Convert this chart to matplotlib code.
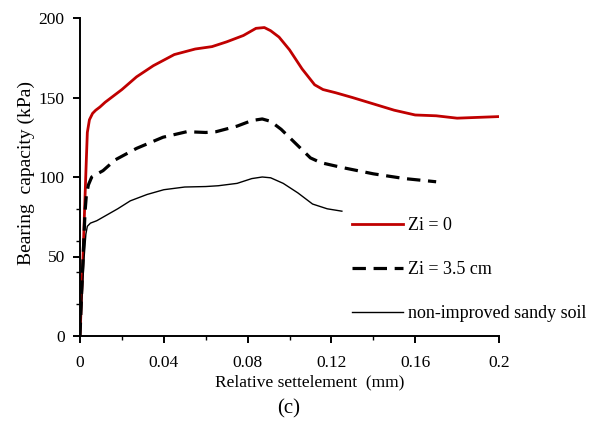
import numpy as np
import matplotlib
matplotlib.use("Agg")
import matplotlib.pyplot as plt
from matplotlib.ticker import MultipleLocator, FixedLocator

plt.rcParams['font.family'] = ['Liberation Serif', 'DejaVu Serif']

# settlement (mm) vs bearing capacity (kPa)
x_zi0 = [0, 0.0012, 0.0022, 0.003, 0.0035, 0.0045, 0.006, 0.0075, 0.0095, 0.012,
         0.016, 0.02, 0.027, 0.035, 0.045, 0.055, 0.063, 0.07, 0.078, 0.084, 0.088,
         0.091, 0.095, 0.1, 0.106, 0.112, 0.116, 0.122, 0.13, 0.14, 0.15, 0.16,
         0.17, 0.18, 0.19, 0.2]
y_zi0 = [0, 40, 80, 110, 128, 136, 140, 142, 144, 147,
         151, 155, 163, 170, 177, 180.5, 182, 185, 189, 193.5, 194,
         192, 188, 180, 168, 158, 155, 153, 150, 146, 142, 139,
         138.5, 137, 137.5, 138]

x_zi35 = [0, 0.001, 0.0024, 0.003, 0.004, 0.0056, 0.011, 0.0167, 0.027, 0.0396,
          0.051, 0.06, 0.065, 0.075, 0.082, 0.087, 0.091, 0.096, 0.103, 0.11,
          0.115, 0.125, 0.14, 0.155, 0.17]
y_zi35 = [0, 35, 78, 88, 95, 100, 104, 110.7, 118, 125,
          128.5, 128, 128.5, 132, 135.5, 136.5, 135, 130, 121, 112,
          109, 106, 102, 99, 97]

x_sand = [0, 0.001, 0.002, 0.0028, 0.0035, 0.005, 0.008, 0.012, 0.018, 0.024,
          0.032, 0.04, 0.05, 0.06, 0.066, 0.075, 0.082, 0.087, 0.091, 0.097,
          0.104, 0.111, 0.118, 0.125]
y_sand = [0, 25, 50, 64, 69, 71, 72.5, 75.5, 80, 85,
          89, 92, 93.7, 94, 94.5, 96, 99, 100, 99.5, 96,
          90, 83, 80, 78.5]

labels = ['Zi = 0', 'Zi = 3.5 cm', 'non-improved sandy soil']
x_ticks = [0, 0.04, 0.08, 0.12, 0.16, 0.2]
x_tick_labels = ['0', '0.04', '0.08', '0.12', '0.16', '0.2']
x_minor = [0.02, 0.06, 0.1, 0.14]
y_minor = [20, 40, 60, 80]

fig = plt.figure(figsize=(5.89, 4.24), dpi=100)
ax = fig.add_axes([80 / 589, 1 - 336 / 424, 419 / 589, 318 / 424])

ax.plot(x_zi0, y_zi0, color='#c00000', lw=2.0, label=labels[0])
ax.plot(x_zi35, y_zi35, color='black', lw=2.3, dashes=(4.2, 2.4), label=labels[1])
ax.plot(x_sand, y_sand, color='black', lw=1.0, label=labels[2])

ax.set_xlim(0, 0.2)
ax.set_ylim(0, 200)
ax.set_xticks(x_ticks)
ax.set_xticklabels(x_tick_labels)
ax.xaxis.set_minor_locator(FixedLocator(x_minor))
ax.yaxis.set_major_locator(MultipleLocator(50))
ax.yaxis.set_minor_locator(FixedLocator(y_minor))

for side in ['top', 'right']:
    ax.spines[side].set_visible(False)
for side in ['left', 'bottom']:
    ax.spines[side].set_linewidth(1.4)
ax.tick_params(which='major', length=5, width=1.4, labelsize=12.5)
ax.tick_params(which='minor', length=3, width=1.0)
ax.tick_params(axis='x', which='major', pad=9)
ax.tick_params(axis='y', which='major', pad=6)

ax.set_xlabel('Relative settelement  (mm)', fontsize=12.5)
ax.xaxis.label.set_va('center')
ax.xaxis.set_label_coords(0.549, -0.145)
ax.set_ylabel('Bearing  capacity (kPa)', fontsize=14)
ax.yaxis.label.set_va('center')
ax.yaxis.set_label_coords(-0.128, 0.513)
fig.text(289 / 589, 1 - 409 / 424, '(c)', fontsize=15, ha='center', va='center')

ax.legend(loc='upper left', bbox_to_anchor=(352 / 589, 1 - 217 / 424),
          bbox_transform=fig.transFigure, frameon=False, fontsize=13,
          handlelength=2.8, handletextpad=0.3, labelspacing=1.5,
          borderpad=0, borderaxespad=0)

fig.savefig('out.png', dpi=100)
